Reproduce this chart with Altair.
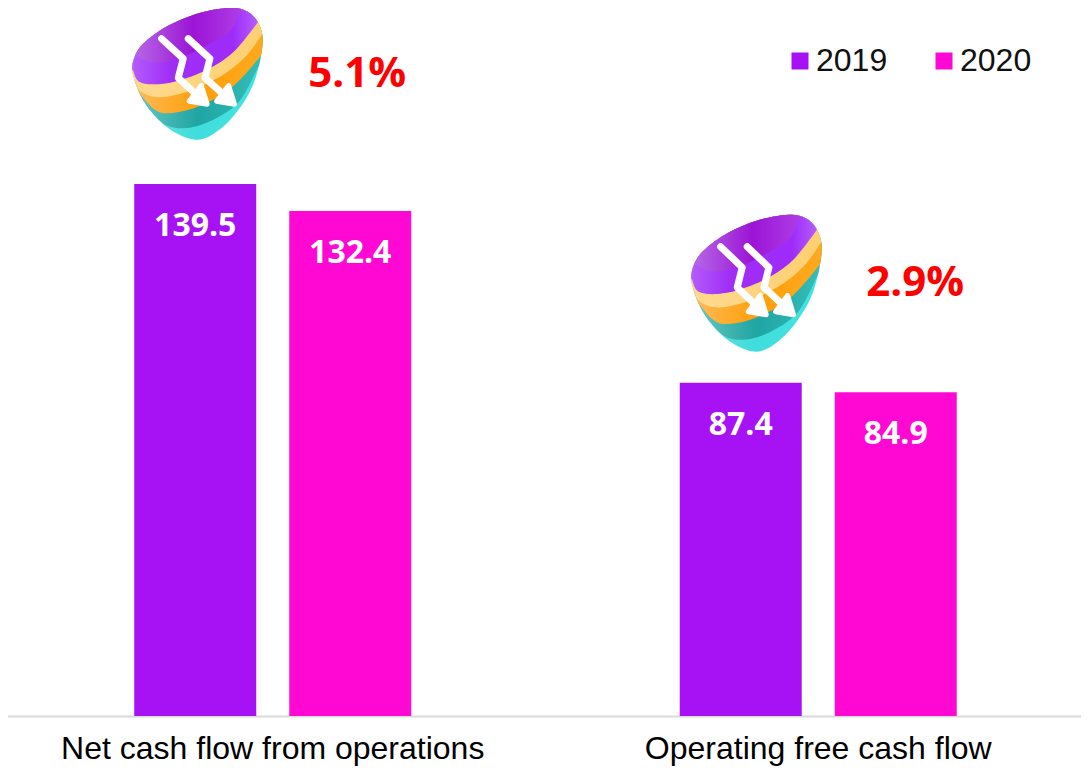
import altair as alt
import pandas as pd

categories = ["Net cash flow from operations", "Operating free cash flow"]
years = ["2019", "2020"]
values_2019 = [139.5, 87.4]
values_2020 = [132.4, 84.9]
changes = ["5.1%", "2.9%"]
icon_levels = [168.4, 113.5]
COLORS = ["#A712F5", "#FF08D4"]
SANS = "Arial, 'Liberation Sans', sans-serif"

rows = []
for c, a, b in zip(categories, values_2019, values_2020):
    rows.append({"cat": c, "year": years[0], "value": a})
    rows.append({"cat": c, "year": years[1], "value": b})
df = pd.DataFrame(rows)

x = alt.X("cat:N", sort=categories, title=None,
          scale=alt.Scale(range=[-8, 1083], paddingInner=0, paddingOuter=0),
          axis=alt.Axis(labelAngle=0, labelFont=SANS, labelFontSize=32, labelColor="#000000",
                        labelPadding=17, ticks=False, domainColor="#D9D9D9", domainWidth=2, grid=False,
                        labelLimit=600))
y = alt.Y("value:Q", title=None, axis=None, scale=alt.Scale(domain=[0, 185.63], nice=False, zero=True))
xo = alt.XOffset("year:N", sort=years, scale=alt.Scale(paddingInner=0.213, paddingOuter=0.866))

bars = alt.Chart(df).mark_bar().encode(
    x=x, y=y, xOffset=xo,
    color=alt.Color("year:N", sort=years, scale=alt.Scale(domain=years, range=COLORS),
                    legend=alt.Legend(title=None, orient="none", legendX=776, legendY=37, direction="horizontal",
                                      symbolType="square", symbolSize=289, symbolStrokeWidth=0, symbolOpacity=1,
                                      labelFont=SANS, labelFontSize=32, labelColor="#111111",
                                      labelOffset=0, columnPadding=40, padding=0)),
)
labels = alt.Chart(df).mark_text(font="Open Sans", fontWeight=700, fontSize=32, color="#FFFFFF", baseline="middle",
                                 dy=42).encode(
    x=x, y=y, xOffset=xo, text=alt.Text("value:Q", format=".1f"))


# ---- icon geometry (in 3x-crop units, centred at 232,217) ----
def cr(pts, closed=False, n=8):
    out = []
    m = len(pts)
    rng = range(m) if closed else range(m - 1)
    for i in rng:
        if closed:
            p0, p1, p2, p3 = pts[(i - 1) % m], pts[i], pts[(i + 1) % m], pts[(i + 2) % m]
        else:
            p0, p1, p2, p3 = pts[max(i - 1, 0)], pts[i], pts[i + 1], pts[min(i + 2, m - 1)]
        for k in range(n):
            t = k / n
            out.append(tuple(0.5 * (2 * p1[d] + (p2[d] - p0[d]) * t + (2 * p0[d] - 5 * p1[d] + 4 * p2[d] - p3[d]) * t * t
                                    + (3 * p1[d] - p0[d] - 3 * p2[d] + p3[d]) * t ** 3) for d in (0, 1)))
    if not closed:
        out.append(pts[-1])
    return out


outline = cr([(340, 12), (395, 32), (425, 85), (425, 150), (400, 250), (355, 330), (300, 390), (240, 422), (180, 408),
              (120, 365), (70, 300), (42, 230), (38, 185), (60, 135), (110, 90), (170, 55), (250, 25)], closed=True)


def grad(stops, x1=0, x2=1, y1=0, y2=0):
    return alt.LinearGradient(gradient="linear", x1=x1, x2=x2, y1=y1, y2=y2,
                              stops=[alt.GradientStop(offset=o, color=c) for o, c in stops])


def icon(ys):
    def to_path(pts, close=True):
        s = []
        for i, (a, b) in enumerate(pts):
            s.append(("M" if i == 0 else "L") + f"{(a - 232) / 208:.3f},{(b - 217) * ys / 208:.3f}")
        return "".join(s) + ("Z" if close else "")

    def region(edge):
        e = cr(edge)
        nearest = lambda p: min(range(len(outline)),
                                key=lambda i: (outline[i][0] - p[0]) ** 2 + (outline[i][1] - p[1]) ** 2)
        il, ir = nearest(e[0]), nearest(e[-1])
        arc = []
        i = il
        while True:
            arc.append(outline[i])
            if i == ir:
                break
            i = (i + 1) % len(outline)
        return to_path(arc + e[::-1])

    shapes = [
        (to_path(outline), grad([(0, "#6FE3DF"), (0.5, "#3FDDDC"), (1, "#45E3E0")])),
        (region([(85, 325), (140, 378), (210, 385), (290, 355), (360, 300), (418, 190)]),
         grad([(0, "#6DC9C5"), (0.5, "#1FA5A3"), (1, "#35BDB9")])),
        (region([(62, 282), (100, 325), (140, 340), (220, 325), (310, 280), (370, 225), (424, 160)]),
         grad([(0, "#FFBC5C"), (0.5, "#FF9F0A"), (1, "#FFA91F")])),
        (region([(45, 235), (62, 272), (120, 290), (210, 270), (310, 220), (380, 160), (426, 95)]),
         grad([(0, "#FFD98F"), (1, "#FFD070")])),
        (region([(39, 205), (55, 240), (100, 250), (170, 240), (260, 205), (340, 150), (412, 60)]),
         grad([(0, "#B45CFF"), (0.3, "#A02FF5"), (0.8, "#9E2BFA"), (1, "#B45CFF")])),
        (region([(46, 160), (100, 182), (170, 172), (250, 135), (330, 85), (360, 22)]),
         grad([(0, "#B666E6"), (0.55, "#9C14D6"), (1, "#AE3DE6")])),
    ]
    shafts = (to_path([(125, 108), (190, 170), (175, 230), (240, 292)], False) +
              to_path([(205, 108), (270, 170), (255, 230), (322, 292)], False))
    heads = (to_path([(208, 303), (262, 312), (244, 254)]) +
             to_path([(290, 303), (344, 312), (326, 254)]))
    return shapes, shafts, heads


SIZE = (2 * 69.33) ** 2
icon_dx = [-75.5, -62]
icon_ys = [0.964, 1.0]
text_dx = [84.5, 97]
layers = [bars, labels]
for cat, lvl, dx, ys, tdx, txt in zip(categories, icon_levels, icon_dx, icon_ys, text_dx, changes):
    d = alt.Data(values=[{"cat": cat, "value": lvl, "t": txt}])
    shapes, shafts, heads = icon(ys)
    for path, fill in shapes:
        layers.append(alt.Chart(d).mark_point(shape=path, size=SIZE, filled=True, fill=fill, opacity=1, strokeWidth=0,
                                              xOffset=dx).encode(x=x, y=y))
    layers.append(alt.Chart(d).mark_point(shape=shafts, size=SIZE, filled=False, fillOpacity=0, opacity=1, stroke="#FFFFFF",
                                          strokeWidth=7, strokeCap="round", strokeJoin="round",
                                          xOffset=dx).encode(x=x, y=y))
    layers.append(alt.Chart(d).mark_point(shape=heads, size=SIZE, filled=True, fill="#FFFFFF", opacity=1, stroke="#FFFFFF",
                                          strokeWidth=5, strokeJoin="round",
                                          xOffset=dx).encode(x=x, y=y))
    layers.append(alt.Chart(d).mark_text(font="Open Sans", fontWeight=700, fontSize=42, color="#FF0000", xOffset=tdx,
                                         baseline="middle").encode(x=x, y=y, text="t:N"))

chart = alt.layer(*layers).properties(
    width=1073, height=708, padding={"left": 0, "top": 0, "right": 0, "bottom": 50},
    autosize=alt.AutoSizeParams(type="none"), background="#FFFFFF",
).configure_view(stroke=None)

chart.save("out.html", embed_options={"renderer": "svg", "actions": False})
